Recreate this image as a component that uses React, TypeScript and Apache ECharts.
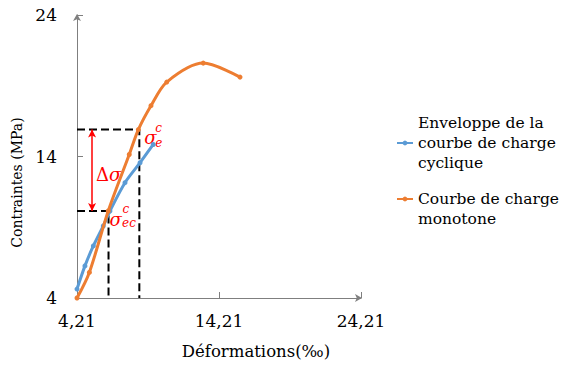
import React, { useEffect, useRef } from "react";
import * as echarts from "echarts";

// Axis ticks
const xTicks = [4.21, 14.21, 24.21];
const yTicks = [4, 14, 24];

// Series: cyclic envelope
const cyclicX = [4.21, 4.77, 5.36, 6.06, 6.53, 7.59, 8.65, 9.58];
const cyclicY = [4.63, 6.27, 7.68, 9.09, 10.15, 12.15, 13.56, 14.85];
// Series: monotone loading curve
const monoX = [4.21, 5.08, 6.41, 7.89, 8.53, 9.42, 10.53, 13.1, 15.69];
const monoY = [4.0, 5.81, 10.15, 14.14, 15.9, 17.59, 19.26, 20.6, 19.61];

// Annotation points
const sigmaE = [8.6, 15.9];
const sigmaEc = [6.43, 10.15];
const deltaArrowX = 5.27;

const nameCyclic = "Enveloppe de la courbe de charge cyclique";
const nameMono = "Courbe de charge monotone";

const BLUE = "#5B9BD5";
const ORANGE = "#ED7D31";
const RED = "#FF0000";
const SERIF = "DejaVu Serif";

export default function App() {
  const ref = useRef<HTMLDivElement>(null);
  useEffect(() => {
    if (!ref.current) return;
    const chart = echarts.init(ref.current, null, { renderer: "svg" });
    const fmtX = (v: number) => v.toFixed(2).replace(".", ",");
    const legendText = {
      fontFamily: SERIF,
      fontSize: 15.5,
      lineHeight: 20,
      color: "#000",
    };
    chart.setOption({
      animation: false,
      backgroundColor: "#fff",
      grid: { left: 77, right: 202, top: 15, bottom: 66, containLabel: false },
      legend: [
        {
          data: [nameCyclic],
          left: 396,
          top: 113,
          padding: 0,
          itemWidth: 16,
          itemHeight: 6,
          textStyle: legendText,
          formatter: () => "Enveloppe de la\ncourbe de charge\ncyclique",
        },
        {
          data: [nameMono],
          left: 396,
          top: 169,
          padding: 0,
          itemWidth: 16,
          itemHeight: 6,
          textStyle: legendText,
          formatter: () => " \nCourbe de charge\nmonotone",
        },
      ],
      xAxis: {
        type: "value",
        min: xTicks[0],
        max: xTicks[xTicks.length - 1],
        interval: xTicks[1] - xTicks[0],
        name: "Déformations(‰)",
        nameLocation: "middle",
        nameGap: 45,
        nameTextStyle: {
          fontFamily: SERIF,
          fontSize: 16.5,
          color: "#000",
          padding: [0, 0, 0, 74],
        },
        axisLine: {
          show: true,
          symbol: ["none", "arrow"],
          symbolSize: [6, 7],
          symbolOffset: [0, 1],
          lineStyle: { color: "#7f7f7f", width: 1 },
        },
        axisTick: { show: true, inside: true, length: 6, lineStyle: { color: "#7f7f7f" } },
        axisLabel: {
          formatter: fmtX,
          fontFamily: SERIF,
          fontSize: 17,
          color: "#000",
          margin: 14,
        },
        splitLine: { show: false },
      },
      yAxis: {
        type: "value",
        min: yTicks[0],
        max: yTicks[yTicks.length - 1],
        interval: yTicks[1] - yTicks[0],
        name: "Contraintes (MPa)",
        nameLocation: "middle",
        nameGap: 45,
        nameTextStyle: {
          fontFamily: SERIF,
          fontSize: 14,
          color: "#000",
          padding: [0, 52, 0, 0],
        },
        axisLine: {
          show: true,
          symbol: ["none", "arrow"],
          symbolSize: [6, 7],
          symbolOffset: [0, 1],
          lineStyle: { color: "#7f7f7f", width: 1 },
        },
        axisTick: { show: true, inside: true, length: 6, lineStyle: { color: "#7f7f7f" } },
        axisLabel: {
          fontFamily: SERIF,
          fontSize: 17,
          color: "#000",
          margin: 20,
          padding: [6, 0, 0, 0],
        },
        splitLine: { show: false },
      },
      series: [
        {
          name: "dashE",
          type: "line",
          silent: true,
          symbol: "none",
          z: 1,
          lineStyle: { color: "#000", width: 2, type: [8, 4] },
          data: [
            [xTicks[0], sigmaE[1]],
            [sigmaE[0], sigmaE[1]],
            [sigmaE[0], yTicks[0]],
          ],
        },
        {
          name: "dashEc",
          type: "line",
          silent: true,
          symbol: "none",
          z: 1,
          lineStyle: { color: "#000", width: 2, type: [8, 4] },
          data: [
            [xTicks[0], sigmaEc[1]],
            [sigmaEc[0], sigmaEc[1]],
            [sigmaEc[0], yTicks[0]],
          ],
          markLine: {
            silent: true,
            symbol: ["arrow", "arrow"],
            symbolSize: [6, 8],
            label: { show: false },
            lineStyle: { color: RED, width: 1.5, type: "solid" },
            data: [
              [
                { coord: [deltaArrowX, sigmaE[1]] },
                { coord: [deltaArrowX, sigmaEc[1]] },
              ],
            ],
          },
        },
        {
          name: nameCyclic,
          type: "line",
          smooth: 0.3,
          symbol: "circle",
          symbolSize: 5,
          z: 3,
          itemStyle: { color: BLUE },
          lineStyle: { color: BLUE, width: 3 },
          data: cyclicX.map((x, i) => [x, cyclicY[i]]),
        },
        {
          name: nameMono,
          type: "line",
          smooth: 0.3,
          symbol: "circle",
          symbolSize: 5,
          z: 4,
          itemStyle: { color: ORANGE },
          lineStyle: { color: ORANGE, width: 3 },
          data: monoX.map((x, i) => [x, monoY[i]]),
        },
      ],
    });

    const p1 = chart.convertToPixel({ gridIndex: 0 }, sigmaE) as number[];
    const p2 = chart.convertToPixel({ gridIndex: 0 }, sigmaEc) as number[];
    const pm = chart.convertToPixel({ gridIndex: 0 }, [
      deltaArrowX,
      (sigmaE[1] + sigmaEc[1]) / 2,
    ]) as number[];
    const big = { fontFamily: SERIF, fontSize: 18, fontStyle: "italic", fill: RED };
    const small = { fontFamily: SERIF, fontSize: 12, fontStyle: "italic", fill: RED };
    chart.setOption({
      graphic: [
        { type: "text", x: p1[0] + 5, y: p1[1] + 8, style: { ...big, text: "σ", verticalAlign: "middle" } },
        { type: "text", x: p1[0] + 16, y: p1[1] - 2, style: { ...small, text: "c", verticalAlign: "middle" } },
        { type: "text", x: p1[0] + 16, y: p1[1] + 13, style: { ...small, text: "e", verticalAlign: "middle" } },
        { type: "text", x: p2[0] + 1, y: p2[1] + 9, style: { ...big, text: "σ", verticalAlign: "middle" } },
        { type: "text", x: p2[0] + 14, y: p2[1] - 2, style: { ...small, text: "c", verticalAlign: "middle" } },
        { type: "text", x: p2[0] + 13.5, y: p2[1] + 12, style: { ...small, text: "ec", verticalAlign: "middle" } },
        {
          type: "text",
          x: pm[0] + 4,
          y: pm[1] + 4,
          style: {
            text: "{a|Δ}{b|σ}",
            fill: RED,
            verticalAlign: "middle",
            rich: {
              a: { fontFamily: SERIF, fontSize: 18, fill: RED },
              b: { fontFamily: SERIF, fontSize: 18, fontStyle: "italic", fill: RED },
            },
          },
        },
      ],
    });
    return () => chart.dispose();
  }, []);
  return (
    <div
      ref={ref}
      style={{ position: "fixed", left: 0, top: 0, width: 563, height: 365, background: "#fff" }}
    />
  );
}
